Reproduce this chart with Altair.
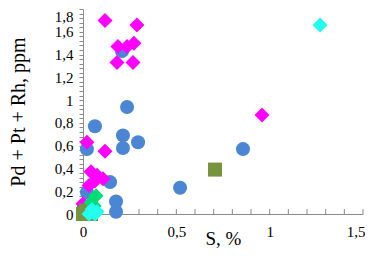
import altair as alt
import pandas as pd

# Pd+Pt+Rh (ppm) vs S (%)
blue_x = [0.236, 0.064, 0.214, 0.214, 0.295, 0.021, 0.145, 0.177, 0.177, 0.52, 0.857, 0.209, 0.021, 0.005]
blue_y = [0.94, 0.77, 0.69, 0.58, 0.63, 0.57, 0.28, 0.11, 0.02, 0.23, 0.57, 1.43, 0.19, 0.06]

magenta_x = [0.118, 0.289, 0.187, 0.236, 0.273, 0.182, 0.268, 0.959, 0.021, 0.118, 0.043, 0.075, 0.107, 0.032, 0.064, 0.0]
magenta_y = [1.70, 1.66, 1.47, 1.47, 1.50, 1.33, 1.33, 0.87, 0.63, 0.55, 0.37, 0.34, 0.31, 0.25, 0.29, 0.09]

olive_x = [0.707, 0.0, 0.043, 0.016]
olive_y = [0.39, 0.0, 0.0, 0.03]

green_x = [0.07, 0.043, 0.06]
green_y = [0.16, 0.10, 0.07]

cyan_x = [1.27, 0.048, 0.075, 0.032, 0.064]
cyan_y = [1.66, 0.04, 0.02, 0.0, 0.0]

x_label_values = [0, 0.5, 1, 1.5]
x_minor_ticks = [0, 0.1, 0.2, 0.3, 0.4, 0.5, 0.6, 0.7, 0.8, 0.9, 1.0, 1.1, 1.2, 1.3, 1.4, 1.5]
y_tick_values = [round(i * 0.04, 2) for i in range(46)]

W, H = 280, 205
FONT = "Times New Roman, Liberation Serif, DejaVu Serif, serif"

xs = alt.Scale(domain=[0, 1.5], nice=False, zero=False)
ys = alt.Scale(domain=[0, 1.8], nice=False, zero=False)

label_expr = "abs(datum.value*5 - round(datum.value*5)) < 0.001 ? replace(format(datum.value, '~g'), '.', ',') : ''"

x_axis = alt.Axis(
    values=x_label_values, ticks=False, grid=False, title="S, %",
    labelExpr="replace(format(datum.value, '~g'), '.', ',')",
    labelFont=FONT, labelFontSize=15, labelColor="black", labelPadding=10,
    labelAlign={"condition": {"test": "datum.value > 1.49", "value": "right"}, "value": "center"},
    labelOffset={"condition": {"test": "datum.value > 1.49", "value": 2}, "value": 0},
    titleFont=FONT, titleFontSize=19, titleFontWeight="normal", titleColor="black",
    titleBaseline="middle", titleY=24,
    domainColor="#8c8c8c", labelFlush=False, labelOverlap=False,
)
y_axis = alt.Axis(
    values=y_tick_values, grid=False, title="Pd + Pt + Rh, ppm",
    labelExpr=label_expr, tickSize=4, tickColor="#8c8c8c", domainColor="#8c8c8c",
    labelFont=FONT, labelFontSize=15, labelColor="black", labelPadding=6,
    labelOffset={"condition": {"test": "datum.value > 1.79", "value": 7}, "value": 0},
    titleFont=FONT, titleFontSize=20, titleFontWeight="normal", titleColor="black",
    titleBaseline="middle", titleX=-65, labelFlush=False, labelOverlap=False,
)

def layer(xv, yv, shape, color, size):
    df = pd.DataFrame({"x": xv, "y": yv})
    return alt.Chart(df).mark_point(shape=shape, filled=True, color=color, size=size, opacity=1).encode(
        x=alt.X("x:Q", scale=xs, axis=x_axis),
        y=alt.Y("y:Q", scale=ys, axis=y_axis),
    )

ticks = alt.Chart(pd.DataFrame({"t": x_minor_ticks})).mark_rule(color="#8c8c8c", strokeWidth=1).encode(
    x=alt.X("t:Q", scale=xs, axis=x_axis),
    y=alt.value(H - 5), y2=alt.value(H),
)

chart = alt.layer(
    ticks,
    layer(blue_x, blue_y, "circle", "#4a86d4", 196),
    layer(magenta_x, magenta_y, "diamond", "#ff00ff", 225),
    layer(olive_x, olive_y, "square", "#77933c", 196),
    layer(green_x, green_y, "diamond", "#00dd77", 225),
    layer(cyan_x, cyan_y, "diamond", "#22ffee", 225),
).properties(
    width=W, height=H,
    autosize="none",
    padding={"left": 75, "top": 1, "right": 2, "bottom": 34},
).configure_view(stroke=None)

chart.save("out.html", embed_options={"renderer": "svg", "actions": False})
